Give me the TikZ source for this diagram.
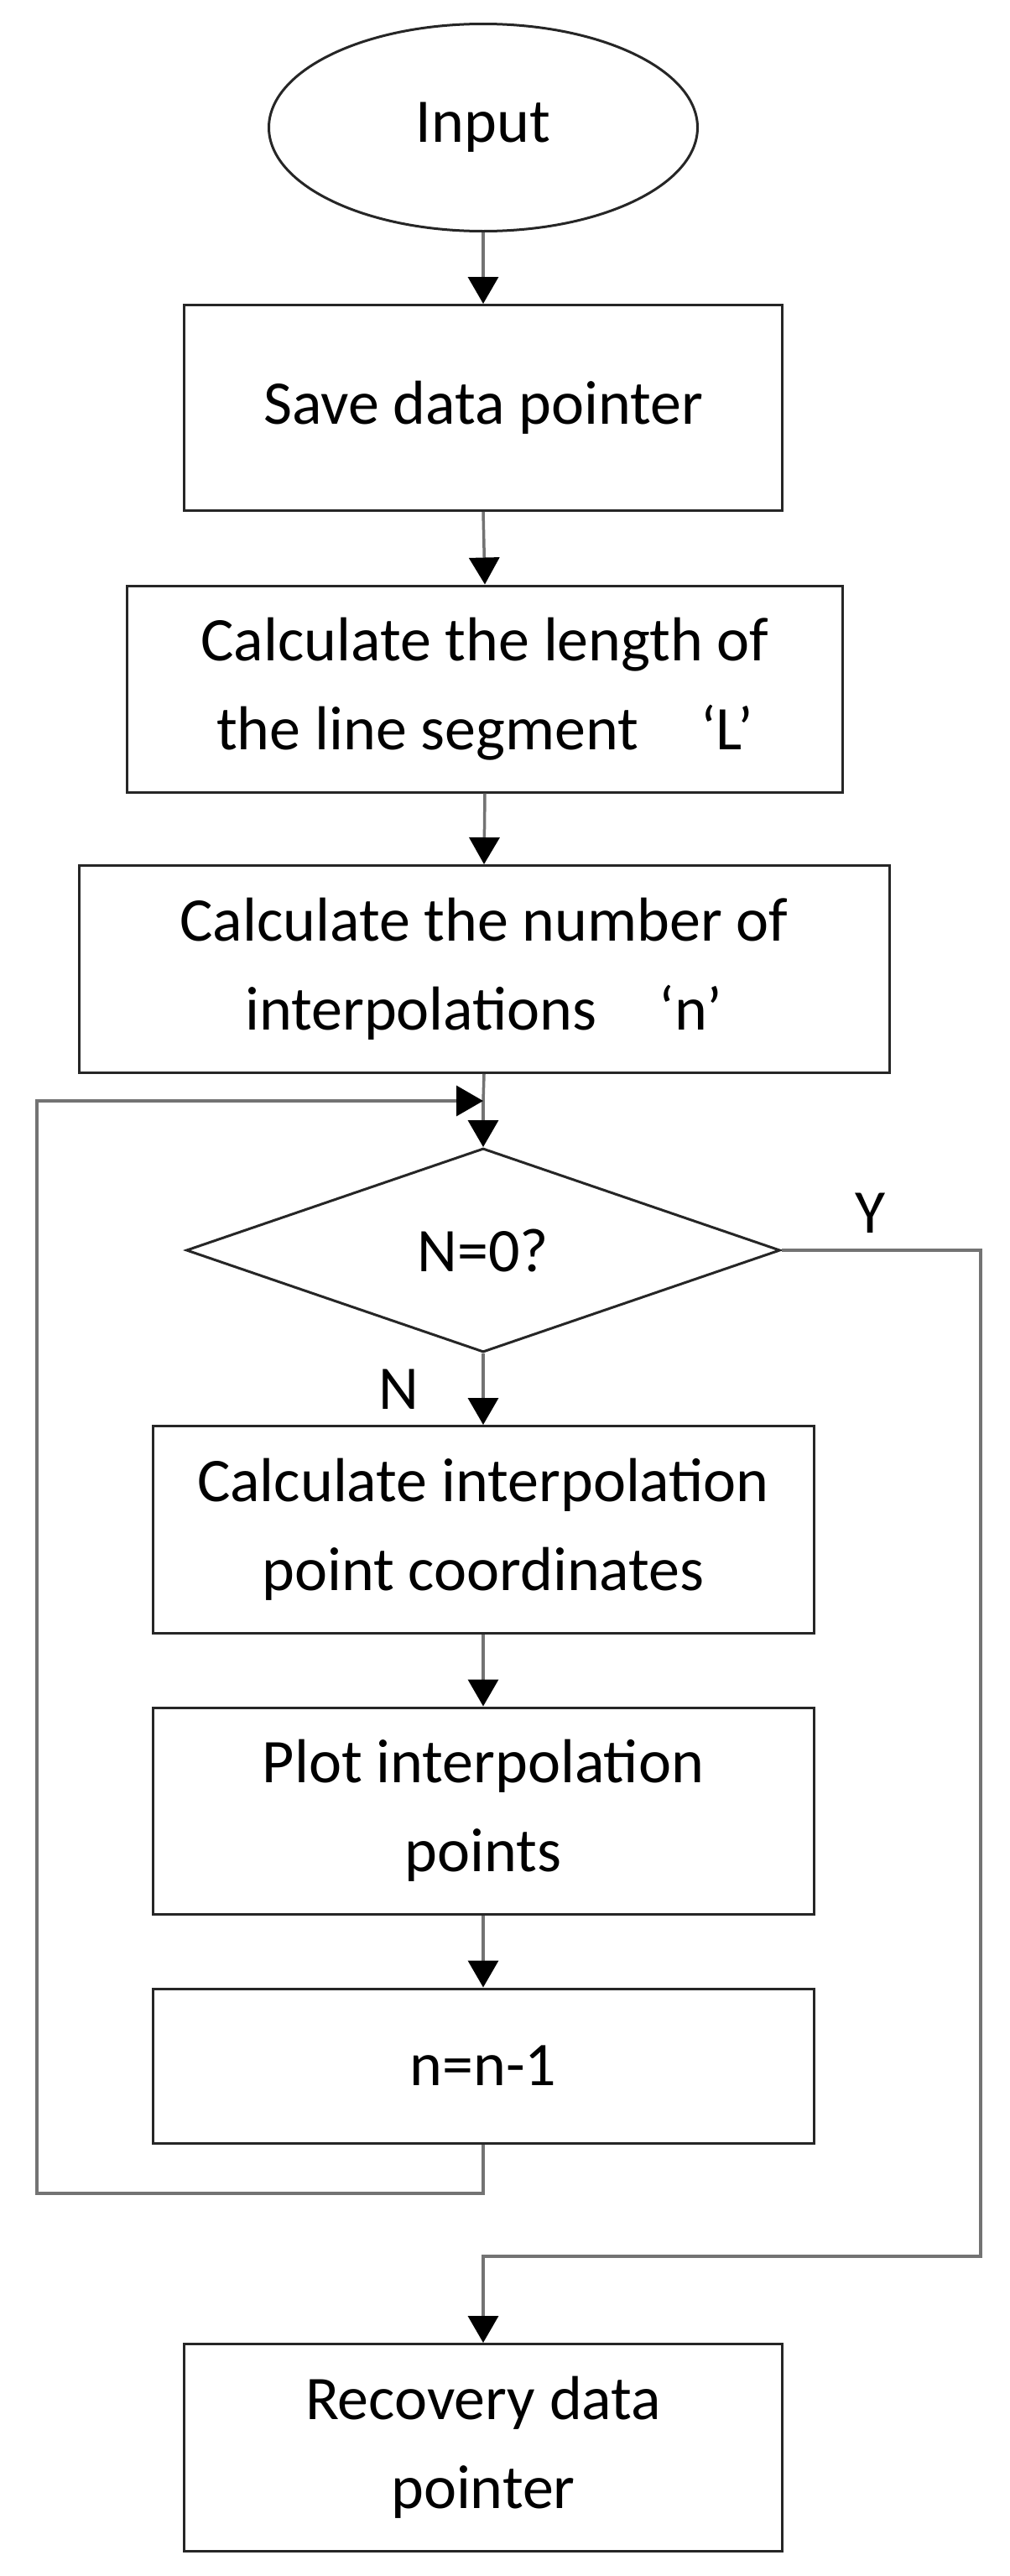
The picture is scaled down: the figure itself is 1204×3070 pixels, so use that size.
\documentclass[tikz,border=0pt]{standalone}
\usepackage{fontspec}
\setmainfont{Carlito}
\usetikzlibrary{shapes.geometric,arrows.meta}
\begin{document}
\begin{tikzpicture}[x=1pt,y=-1pt,
  box/.style={draw=black!85,line width=3pt,inner sep=0pt,align=center,font=\fontsize{74}{106}\selectfont},
  line/.style={draw=black!55,line width=3.5pt},
  arr/.style={line,-{Triangle[length=32pt,width=36pt,color=black]}},
  lab/.style={font=\fontsize{74}{80}\selectfont}]
\useasboundingbox (0,0) rectangle (1204,3070);
\node[box,ellipse,minimum width=511pt,minimum height=247pt] (in) at (576,152) {Input};
\node[box,minimum width=713pt,minimum height=245pt] (save) at (576,486) {Save data pointer};
\node[box,minimum width=853pt,minimum height=246pt] (len) at (578,821) {Calculate the length of\\the line segment\quad ‘L’};
\node[box,minimum width=966pt,minimum height=247pt] (num) at (577,1155) {Calculate the number of\\interpolations\quad ‘n’};
\node[box,diamond,aspect=2.88,minimum width=708pt,minimum height=243pt,draw=black!85] (dec) at (576,1490) {N=0?};
\node[box,minimum width=788pt,minimum height=247pt] (calc) at (576,1823) {Calculate interpolation\\point coordinates};
\node[box,minimum width=788pt,minimum height=246pt] (plot) at (576,2158) {Plot interpolation\\points};
\node[box,minimum width=788pt,minimum height=184pt] (dec1) at (576,2462) {n=n-1};
\node[box,minimum width=713pt,minimum height=247pt] (rec) at (576,2917) {Recovery data\\pointer};
\node[lab] (ylab) at (1038,1446) {Y};
\node[lab] (nlab) at (475,1656) {N};
\coordinate (join) at (576,1312);
\coordinate (lb) at (576,2614);
\coordinate (ll) at (44,2614);
\coordinate (lt) at (44,1312);
\coordinate (rr) at (1169,1490);
\coordinate (rb) at (1169,2689);
\coordinate (rm) at (576,2689);
\draw[arr] (in.south) -- (save.north);
\draw[arr] (save.south) -- (len.north);
\draw[arr] (len.south) -- (num.north);
\draw[line] (num.south) -- (join);
\draw[arr] (join) -- (dec.north);
\draw[arr] (dec.south) -- (calc.north);
\draw[arr] (calc.south) -- (plot.north);
\draw[arr] (plot.south) -- (dec1.north);
\draw[arr] (dec1.south) -- (lb) -- (ll) -- (lt) -- (join);
\draw[arr] (dec.east) -- (rr) -- (rb) -- (rm) -- (rec.north);
\end{tikzpicture}
\end{document}
